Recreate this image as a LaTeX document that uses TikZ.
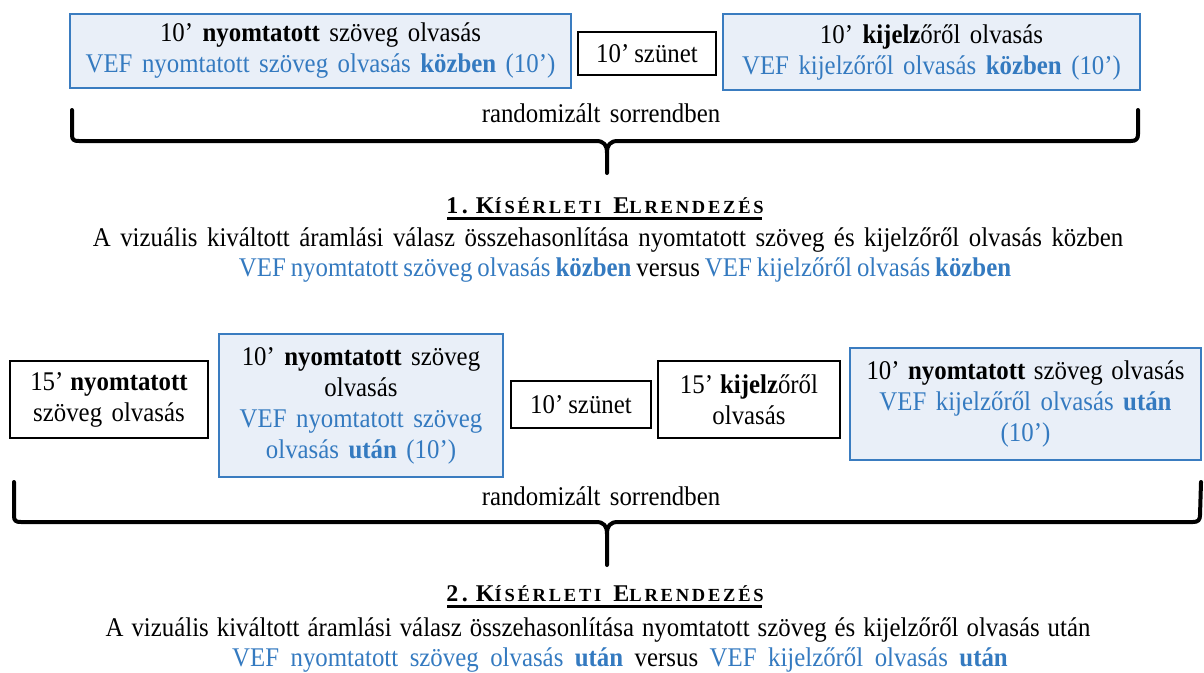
\documentclass[tikz,border=0pt]{standalone}
\usepackage{fontspec}
\setmainfont[FakeStretch=0.92]{Liberation Serif}
\newfontfamily\headfont[LetterSpace=15]{Liberation Serif}
\definecolor{vefblue}{RGB}{52,122,192}
\definecolor{boxblue}{RGB}{58,124,192}
\definecolor{boxfill}{RGB}{233,239,248}
\newcommand{\bodyfont}{\fontsize{27}{31}\selectfont\spaceskip=9.5pt plus 2pt minus 1pt\relax}
\newcommand{\wsp}[1]{\spaceskip=#1 plus 2pt minus 1pt\relax}
\tikzset{
  every node/.style={inner sep=0pt, outer sep=0pt, align=center, font=\bodyfont},
  bluebox/.style={draw=boxblue, fill=boxfill, line width=2.5pt, rectangle},
  blackbox/.style={draw=black, fill=white, line width=2.8pt, rectangle},
  bracepath/.style={draw=black, line width=4pt, line cap=round, line join=round},
  plaintext/.style={},
}
\newcommand{\vb}[1]{\textcolor{vefblue}{#1}}
\newcommand{\hcaps}[1]{{\fontsize{18.5}{20}\selectfont #1}}
\newcommand{\hbig}[1]{{\fontsize{24}{26}\selectfont #1}}
\begin{document}
\begin{tikzpicture}[x=1pt,y=-1pt]
\useasboundingbox (0,0) rectangle (1204,672);
% ---- section 1 ----
\node[bluebox, minimum width=501pt, minimum height=74pt] (b1) at (320.5,51)
  {10’ \textbf{nyomtatott} szöveg olvasás\\ \vb{VEF nyomtatott szöveg olvasás \textbf{közben} (10’)}};
\node[blackbox, minimum width=138pt, minimum height=43pt] (s1) at (647,53.5) {\wsp{5pt}10’ szünet};
\node[bluebox, minimum width=417pt, minimum height=76pt] (b2) at (931.5,52)
  {10’ \textbf{kijelz}őről olvasás\\ \vb{VEF kijelzőről olvasás \textbf{közben} (10’)}};
\node[plaintext] (r1) at (601,113) {randomizált sorrendben};
\path[bracepath] (72,110) -- (72,135) .. controls (72,140) and (74,141) .. (79,141)
  -- (596,141) .. controls (604,141) and (607,145) .. (607,153) -- (607,173);
\path[bracepath] (607,153) .. controls (607,145) and (610,141) .. (618,141)
  -- (1131,141) .. controls (1136,141) and (1138,139) .. (1138,134) -- (1138,110);
\node[plaintext, anchor=base] (h1) at (605,213) {\headfont\bfseries\hbig{1.}\hspace{8pt}\hbig{K}\hcaps{ÍSÉRLETI}\hspace{12pt}\hbig{E}\hcaps{LRENDEZÉS}};
\draw[line width=3pt] (447,218) -- (762,218);
\node[plaintext] (t1a) at (608,240) {A vizuális kiváltott áramlási válasz összehasonlítása nyomtatott szöveg és kijelzőről olvasás közben};
\node[plaintext] (t1b) at (625,270) {\wsp{5pt}\vb{VEF nyomtatott szöveg olvasás \textbf{közben}} versus \vb{VEF kijelzőről olvasás \textbf{közben}}};
% ---- section 2 ----
\node[blackbox, minimum width=198pt, minimum height=77pt] (a) at (109,399.5)
  {\wsp{7pt}15’ \textbf{nyomtatott}\\szöveg olvasás};
\node[bluebox, minimum width=284pt, minimum height=143pt] (b3) at (361,405.5)
  {10’ \textbf{nyomtatott} szöveg\\olvasás\\ \vb{VEF nyomtatott szöveg}\\ \vb{olvasás \textbf{után} (10’)}};
\node[blackbox, minimum width=140pt, minimum height=47pt] (s2) at (581,404.5) {\wsp{5pt}10’ szünet};
\node[blackbox, minimum width=182pt, minimum height=77pt] (c) at (749,399.5)
  {\wsp{7pt}15’ \textbf{kijelz}őről\\olvasás};
\node[bluebox, minimum width=351pt, minimum height=112pt] (b4) at (1025.5,404)
  {\wsp{8.5pt}10’ \textbf{nyomtatott} szöveg olvasás\\ \vb{VEF kijelzőről olvasás \textbf{után}}\\ \vb{(10’)}};
\node[plaintext] (r2) at (601,496) {randomizált sorrendben};
\path[bracepath] (14,482) -- (14,516) .. controls (14,521) and (16,522) .. (21,522)
  -- (596,522) .. controls (604,522) and (607,526) .. (607,534) -- (607,565);
\path[bracepath] (607,534) .. controls (607,526) and (610,522) .. (618,522)
  -- (1193,522) .. controls (1198,522) and (1200,520) .. (1200,515) -- (1201,482);
\node[plaintext, anchor=base] (h2) at (605,601) {\headfont\bfseries\hbig{2.}\hspace{8pt}\hbig{K}\hcaps{ÍSÉRLETI}\hspace{12pt}\hbig{E}\hcaps{LRENDEZÉS}};
\draw[line width=3pt] (447,606) -- (762,606);
\node[plaintext] (t2a) at (598,630) {\wsp{8pt}A vizuális kiváltott áramlási válasz összehasonlítása nyomtatott szöveg és kijelzőről olvasás után};
\node[plaintext] (t2b) at (620,660) {\wsp{11.5pt}\vb{VEF nyomtatott szöveg olvasás \textbf{után}} versus \vb{VEF kijelzőről olvasás \textbf{után}}};
\end{tikzpicture}
\end{document}
